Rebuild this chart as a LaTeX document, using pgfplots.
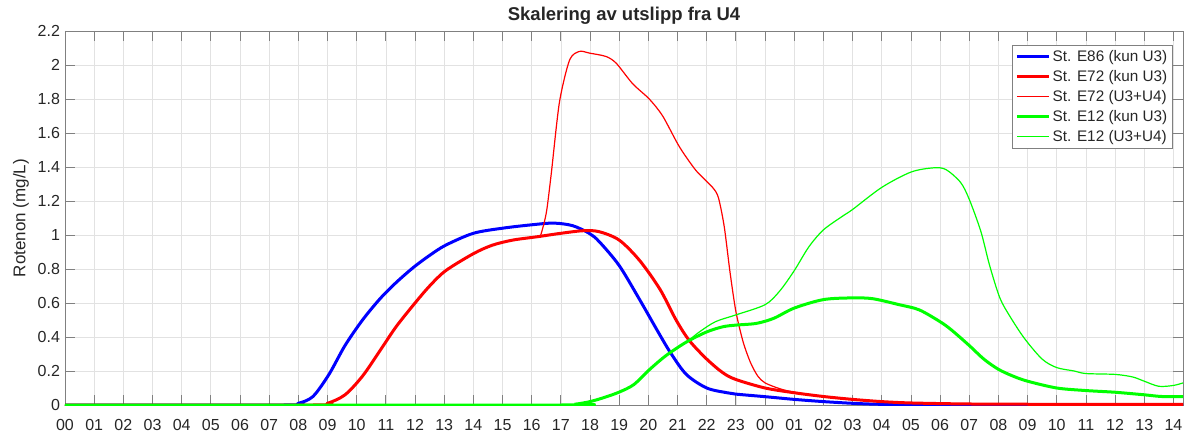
\documentclass[border=0pt]{standalone}
\usepackage{fontspec}
\setmainfont{Liberation Sans}
\usepackage{pgfplots}
\pgfplotsset{compat=1.18}
\definecolor{gridc}{RGB}{226,226,226}
\definecolor{axc}{RGB}{128,128,128}
\definecolor{txt}{RGB}{38,38,38}
\definecolor{mblue}{RGB}{0,0,255}
\definecolor{mred}{RGB}{255,0,0}
\definecolor{mgreen}{RGB}{0,255,0}

\pgfplotstableread{
x y
0 0
7.5 0
8.0 0.01
8.5 0.05
9.05 0.18
9.6 0.35
10.2 0.50
10.8 0.625
11.35 0.72
11.95 0.81
12.5 0.88
13.05 0.94
14.0 1.01
15.0 1.04
16.0 1.06
16.75 1.07
17.4 1.055
17.97 1.01
18.32 0.96
19.0 0.82
19.7 0.62
20.3 0.44
20.75 0.31
21.3 0.18
22.0 0.10
22.7 0.072
23.0 0.064
24.0 0.049
25.0 0.033
26 0.02
27 0.01
28 0.004
30 0.001
38.33 0
}\blueE

\pgfplotstableread{
x y
0 0
8.5 0
9.0 0.01
9.6 0.06
10.2 0.17
10.8 0.32
11.35 0.46
12.0 0.60
12.5 0.70
13.05 0.79
14.0 0.89
14.65 0.94
15.35 0.97
16.2 0.99
17.0 1.01
17.75 1.025
18.3 1.02
19.0 0.97
19.7 0.85
20.4 0.68
20.95 0.50
21.4 0.38
22.0 0.27
22.55 0.19
23.0 0.15
24.0 0.10
25.0 0.072
26.0 0.05
27.0 0.033
28.0 0.02
29.0 0.012
31 0.006
34 0.004
38.33 0.003
}\redA

\pgfplotstableread{
x y
0 0
8.5 0
9.0 0.01
9.6 0.06
10.2 0.17
10.8 0.32
11.35 0.46
12.0 0.60
12.5 0.70
13.05 0.79
14.0 0.89
14.65 0.94
15.35 0.97
16.2 0.99
16.3 0.995
16.5 1.13
16.67 1.36
16.95 1.78
17.3 2.03
17.64 2.08
17.98 2.07
18.55 2.05
18.9 2.01
19.46 1.89
20.03 1.80
20.49 1.70
21.06 1.52
21.63 1.38
22.2 1.28
22.4 1.22
22.6 1.05
22.8 0.78
23.0 0.55
23.25 0.37
23.5 0.25
23.75 0.17
24.0 0.13
24.5 0.096
25.0 0.075
26.0 0.05
27.0 0.033
28.0 0.02
29.0 0.012
31 0.006
34 0.004
38.33 0.003
}\redB

\pgfplotstableread{
x y
0 0
17.0 0
17.5 0.005
18.0 0.02
18.5 0.045
19.0 0.076
19.5 0.12
20.05 0.21
20.6 0.29
21.3 0.37
22.0 0.43
22.55 0.46
23.0 0.47
23.7 0.48
24.3 0.51
25.0 0.57
26.0 0.62
27.0 0.63
27.7 0.625
28.6 0.59
29.28 0.56
30.0 0.49
30.4 0.44
31.0 0.35
31.5 0.27
32.0 0.21
32.5 0.17
33.0 0.14
34.0 0.10
35.0 0.085
36.0 0.075
37.0 0.06
37.6 0.05
38.33 0.05
}\greenA

\pgfplotstableread{
x y
0 0
17.0 0
17.5 0.005
18.0 0.02
18.5 0.045
19.0 0.076
19.5 0.12
20.05 0.21
20.6 0.29
21.3 0.37
21.75 0.43
22.3 0.49
23.0 0.53
24.0 0.59
24.5 0.67
25.0 0.79
25.5 0.93
26.0 1.03
26.65 1.11
27.0 1.15
28.0 1.28
29.0 1.37
29.77 1.395
30.2 1.385
30.7 1.31
31.0 1.21
31.4 1.02
31.7 0.82
32.05 0.63
32.4 0.52
32.9 0.39
33.5 0.27
34.0 0.22
34.6 0.20
35.0 0.185
36.0 0.18
36.6 0.165
37.0 0.14
37.5 0.11
38.0 0.115
38.33 0.13
}\greenB

\begin{document}
\begin{tikzpicture}
\useasboundingbox (-65pt,-29pt) rectangle (1121pt,405pt);
\begin{axis}[
  scale only axis, width=1118pt, height=374pt,
  xmin=0, xmax=38.33, ymin=0, ymax=2.2,
  xtick={0,...,38},
  xticklabels={00,01,02,03,04,05,06,07,08,09,10,11,12,13,14,15,16,17,18,19,20,21,22,23,00,01,02,03,04,05,06,07,08,09,10,11,12,13,14},
  ytick={0,0.2,0.4,0.6,0.8,1,1.2,1.4,1.6,1.8,2,2.2},
  yticklabels={0,0.2,0.4,0.6,0.8,1,1.2,1.4,1.6,1.8,2,2.2},
  grid=major, major grid style={gridc, line width=0.7pt},
  axis line style={axc, line width=0.8pt},
  tick style={axc, line width=0.8pt}, major tick length=10pt,
  tick align=inside, xtick pos=both, ytick pos=both,
  tick label style={font=\fontsize{16}{18}\selectfont, text=txt},
  xticklabel style={anchor=base, yshift=-25.5pt},
  yticklabel style={anchor=east, xshift=-1.5pt},
  /pgf/number format/assume math mode=true,
  title={\textbf{Skalering av utslipp fra U4}},
  title style={font=\fontsize{18.5}{20}\selectfont, text=txt, at={(0.5,1)}, anchor=base, yshift=4pt},
  ylabel={Rotenon (mg/L)},
  every axis y label/.style={at={(axis description cs:0,0.5)}, rotate=90, anchor=center, yshift=44pt, font=\fontsize{17}{19}\selectfont, text=txt},
  legend style={at={(0.991,0.963)}, anchor=north east, draw=axc, line width=0.8pt,
    font=\fontsize{15.3}{17}\selectfont, text=txt, inner xsep=3pt, inner ysep=3pt, row sep=2.5pt,
    nodes={inner sep=2.4pt}},
  legend cell align=left,
  legend image code/.code={\draw[#1, line cap=butt] (0pt,0pt) -- (32pt,0pt);},
]
\addplot[mblue, draw=mblue, line width=3pt, smooth, tension=0.5] table {\blueE};
\addlegendentry{St. E86 (kun U3)}
\addplot[mred, draw=mred, line width=3pt, smooth, tension=0.5] table {\redA};
\addlegendentry{St. E72 (kun U3)}
\addplot[mred, draw=mred, line width=1.2pt, smooth, tension=0.45] table {\redB};
\addlegendentry{St. E72 (U3+U4)}
\addplot[mgreen, draw=mgreen, line width=3pt, smooth, tension=0.5] table {\greenA};
\addlegendentry{St. E12 (kun U3)}
\addplot[mgreen, draw=mgreen, line width=1.2pt, smooth, tension=0.5] table {\greenB};
\addlegendentry{St. E12 (U3+U4)}
\end{axis}
\end{tikzpicture}
\end{document}
